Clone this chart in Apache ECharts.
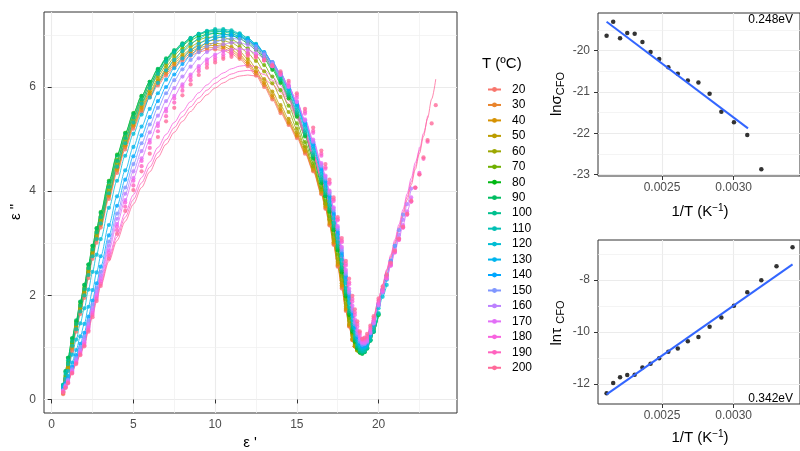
<!DOCTYPE html>
<html><head><meta charset="utf-8">
<script src="https://cdn.jsdelivr.net/npm/echarts@6/dist/echarts.min.js"></script>
<style>html,body{margin:0;padding:0;background:#fff}#c{width:800px;height:451px}</style>
</head><body><div id="c"></div>
<script>
const FONT = '"Liberation Sans", Arial, Helvetica, sans-serif';

// ---- main panel: epsilon' sampling and epsilon'' read for each temperature ----
const epsReal = [0.7, 0.85, 1.0, 1.25, 1.5, 1.75, 2.0, 2.25, 2.5, 2.75, 3.0,
  3.5, 4.0, 4.5, 5.0, 5.5, 6.0, 6.5, 7.0, 7.5, 8.0, 8.5, 9.0, 9.5, 10.0, 10.5, 11.0, 11.5, 12.0, 12.5, 13.0, 13.5,
  14.0, 14.5, 15.0, 15.5, 16.0, 16.5,
  16.75, 17.0, 17.25, 17.5, 17.75, 18.0, 18.2, 18.4, 18.55, 18.7, 18.85, 19.0, 19.15, 19.3, 19.5, 19.7,
  20.0, 20.25, 20.5, 20.75, 21.0, 21.25, 21.5, 21.75, 22.0, 22.25, 22.5, 22.75, 23.0, 23.25, 23.5];
const temps = ['20','30','40','50','60','70','80','90','100','110','120','130','140','150','160','170','180','190','200'];

const epsImag_20 = [0.10,0.32,0.55,0.93,1.30,1.64,1.95,2.33,2.70,3.01,3.30,
  3.85,4.35,4.80,5.20,5.52,5.80,6.03,6.22,6.38,6.50,6.60,6.67,6.71,6.72,6.70,6.64,6.54,6.40,6.22,6.00,5.76,5.50,5.27,5.02,4.72,4.38,3.94,
  3.66,3.34,2.97,2.55,2.13,1.70,1.40,1.14,1.02,0.96,0.96,1.00,1.06,1.15,1.28,1.42];
const epsImag_30 = [0.12,0.35,0.58,0.98,1.35,1.69,2.00,2.39,2.75,3.07,3.35,
  3.90,4.40,4.85,5.24,5.56,5.84,6.07,6.26,6.42,6.54,6.64,6.71,6.75,6.76,6.74,6.68,6.58,6.44,6.26,6.04,5.80,5.54,5.30,5.05,4.75,4.40,3.96,
  3.68,3.36,2.99,2.57,2.16,1.72,1.41,1.14,1.02,0.95,0.94,0.99,1.05,1.15,1.28,1.43];
const epsImag_40 = [0.14,0.38,0.60,1.01,1.38,1.72,2.03,2.42,2.78,3.10,3.38,
  3.93,4.43,4.88,5.27,5.60,5.88,6.11,6.30,6.46,6.58,6.68,6.75,6.79,6.80,6.78,6.72,6.62,6.48,6.30,6.08,5.84,5.58,5.33,5.08,4.78,4.43,3.99,
  3.71,3.39,3.02,2.60,2.19,1.74,1.43,1.15,1.02,0.95,0.94,0.98,1.04,1.14,1.27,1.42];
const epsImag_50 = [0.16,0.40,0.62,1.03,1.40,1.75,2.06,2.46,2.82,3.14,3.42,
  3.97,4.47,4.92,5.31,5.64,5.92,6.15,6.34,6.50,6.62,6.72,6.79,6.83,6.84,6.82,6.77,6.68,6.54,6.37,6.15,5.91,5.65,5.39,5.13,4.83,4.47,4.03,
  3.75,3.43,3.06,2.64,2.23,1.78,1.45,1.17,1.02,0.94,0.92,0.96,1.02,1.12,1.25,1.40];
const epsImag_60 = [0.18,0.43,0.66,1.07,1.44,1.79,2.10,2.50,2.86,3.19,3.47,
  4.03,4.53,4.98,5.37,5.70,5.98,6.21,6.40,6.56,6.68,6.78,6.85,6.89,6.90,6.89,6.85,6.77,6.65,6.50,6.30,6.07,5.81,5.52,5.20,4.86,4.48,4.03,
  3.76,3.46,3.10,2.70,2.29,1.84,1.51,1.22,1.05,0.94,0.91,0.93,0.97,1.05,1.20,1.36];
const epsImag_70 = [0.20,0.46,0.70,1.10,1.47,1.83,2.15,2.54,2.90,3.23,3.52,
  4.10,4.60,5.04,5.43,5.76,6.04,6.27,6.46,6.62,6.74,6.84,6.91,6.95,6.96,6.95,6.91,6.84,6.74,6.60,6.42,6.20,5.94,5.64,5.30,4.94,4.54,4.08,
  3.82,3.52,3.17,2.78,2.37,1.92,1.57,1.27,1.09,0.96,0.90,0.90,0.93,1.00,1.15,1.32];
const epsImag_80 = [0.25,0.53,0.80,1.17,1.50,1.87,2.20,2.59,2.95,3.29,3.60,
  4.20,4.70,5.12,5.50,5.83,6.10,6.34,6.53,6.68,6.80,6.90,6.97,7.01,7.03,7.02,6.99,6.93,6.84,6.71,6.54,6.33,6.08,5.78,5.43,5.05,4.62,4.15,
  3.90,3.60,3.25,2.86,2.44,1.98,1.62,1.30,1.11,0.98,0.90,0.88,0.91,0.98,1.13,1.30, 1.62];
const epsImag_90 = [0.28,0.55,0.80,1.18,1.52,1.88,2.20,2.59,2.95,3.28,3.58,
  4.17,4.68,5.10,5.48,5.82,6.10,6.35,6.55,6.71,6.84,6.94,7.01,7.05,7.07,7.06,7.03,6.97,6.88,6.75,6.58,6.37,6.12,5.82,5.47,5.08,4.65,4.18,
  3.92,3.63,3.28,2.90,2.48,2.02,1.66,1.33,1.13,0.99,0.91,0.88,0.91,0.98,1.13,1.30, 1.63];
const epsImag_100 = [0.28,0.53,0.75,1.12,1.45,1.80,2.12,2.52,2.88,3.21,3.50,
  4.08,4.58,5.02,5.41,5.76,6.05,6.30,6.52,6.69,6.83,6.94,7.02,7.07,7.09,7.09,7.06,7.00,6.91,6.78,6.61,6.40,6.15,5.86,5.51,5.12,4.69,4.22,
  3.96,3.67,3.33,2.95,2.53,2.07,1.70,1.38,1.17,1.02,0.93,0.90,0.92,0.98,1.13,1.30, 1.64];
const epsImag_110 = [0.27,0.49,0.68,1.03,1.35,1.69,2.00,2.39,2.75,3.08,3.38,
  3.96,4.47,4.92,5.32,5.68,5.98,6.25,6.48,6.66,6.81,6.93,7.02,7.08,7.11,7.11,7.09,7.03,6.94,6.82,6.65,6.44,6.19,5.90,5.56,5.17,4.74,4.27,
  4.02,3.73,3.39,3.02,2.60,2.14,1.77,1.44,1.22,1.06,0.97,0.93,0.94,1.00,1.15,1.32, 1.66];
const epsImag_120 = [0.25,0.40,0.55,0.86,1.15,1.46,1.75,2.11,2.45,2.78,3.08,
  3.68,4.20,4.68,5.10,5.47,5.80,6.08,6.32,6.52,6.69,6.83,6.93,7.00,7.05,7.07,7.06,7.02,6.94,6.83,6.67,6.47,6.23,5.95,5.62,5.24,4.81,4.33,
  4.09,3.80,3.47,3.10,2.68,2.23,1.85,1.52,1.29,1.12,1.02,0.97,0.99,1.04,1.20,1.38, 1.75,1.97,2.20];
const epsImag_130 = [0.22,0.33,0.45,0.71,0.95,1.21,1.45,1.78,2.10,2.44,2.75,
  3.35,3.90,4.40,4.85,5.24,5.58,5.88,6.14,6.36,6.55,6.71,6.83,6.92,6.98,7.01,7.01,6.98,6.91,6.81,6.66,6.47,6.24,5.97,5.65,5.28,4.86,4.39,
  4.15,3.86,3.54,3.17,2.76,2.30,1.93,1.60,1.36,1.17,1.06,1.00,1.01,1.07,1.23,1.42, 1.80,2.05,2.30];
const epsImag_140 = [0.20,0.30,0.40,0.63,0.85,1.07,1.28,1.59,1.90,2.23,2.55,
  3.15,3.72,4.22,4.67,5.07,5.42,5.73,6.00,6.24,6.44,6.61,6.75,6.86,6.93,6.97,6.98,6.96,6.90,6.80,6.66,6.48,6.26,6.00,5.68,5.32,4.90,4.43,
  4.19,3.90,3.58,3.22,2.81,2.36,1.99,1.65,1.40,1.20,1.08,1.02,1.03,1.08,1.25,1.45, 1.82,2.10,2.38,2.66,2.95];
const epsImag_150 = [0.18,0.28,0.38,0.59,0.80,1.00,1.20,1.51,1.82,2.14,2.45,
  3.03,3.57,4.07,4.52,4.92,5.28,5.60,5.88,6.13,6.34,6.52,6.67,6.78,6.86,6.91,6.93,6.92,6.87,6.78,6.65,6.48,6.27,6.02,5.71,5.35,4.94,4.48,
  4.24,3.95,3.63,3.27,2.86,2.41,2.04,1.70,1.44,1.24,1.11,1.05,1.06,1.10,1.27,1.46, 1.82,2.10,2.38,2.66,2.95,3.25,3.55];
const epsImag_160 = [0.17,0.26,0.36,0.56,0.76,0.95,1.15,1.45,1.75,2.07,2.38,
  2.95,3.47,3.95,4.38,4.77,5.13,5.45,5.73,5.98,6.20,6.39,6.55,6.67,6.76,6.82,6.85,6.85,6.81,6.73,6.61,6.45,6.25,6.01,5.71,5.36,4.96,4.51,
  4.27,3.98,3.66,3.30,2.90,2.45,2.08,1.74,1.48,1.28,1.15,1.08,1.08,1.12,1.28,1.46, 1.80,2.06,2.33,2.60,2.87,3.16,3.45,3.75,4.05];
const epsImag_170 = [0.16,0.25,0.34,0.54,0.73,0.91,1.10,1.40,1.70,2.01,2.32,
  2.87,3.37,3.83,4.25,4.63,4.98,5.30,5.58,5.83,6.05,6.24,6.40,6.53,6.62,6.69,6.72,6.73,6.71,6.65,6.55,6.41,6.23,6.00,5.72,5.38,4.99,4.54,
  4.30,4.01,3.69,3.33,2.93,2.49,2.13,1.80,1.54,1.33,1.19,1.10,1.10,1.14,1.30,1.48, 1.82,2.07,2.32,2.57,2.83,3.09,3.35,3.61,3.88];
const epsImag_180 = [0.15,0.24,0.33,0.52,0.71,0.89,1.07,1.37,1.66,1.97,2.27,
  2.82,3.32,3.78,4.20,4.58,4.93,5.25,5.53,5.78,6.00,6.19,6.35,6.48,6.57,6.63,6.66,6.67,6.65,6.60,6.52,6.40,6.24,6.03,5.79,5.49,5.12,4.68,
  4.43,4.14,3.81,3.44,3.02,2.57,2.21,1.88,1.62,1.40,1.24,1.14,1.14,1.18,1.34,1.52, 1.85,2.09,2.33,2.57,2.82,3.06,3.30,3.55,3.80,4.07,4.35];
const epsImag_190 = [0.14,0.23,0.32,0.51,0.70,0.87,1.04,1.33,1.62,1.93,2.22,
  2.76,3.25,3.70,4.11,4.48,4.83,5.15,5.44,5.70,5.93,6.13,6.30,6.43,6.52,6.58,6.62,6.63,6.62,6.58,6.51,6.40,6.26,6.08,5.84,5.53,5.16,4.72,
  4.46,4.17,3.84,3.46,3.05,2.61,2.25,1.93,1.67,1.45,1.28,1.16,1.17,1.22,1.38,1.56, 1.90,2.13,2.37,2.60,2.84,3.07,3.30,3.55,3.80,4.06,4.32,4.62,4.95];
const epsImag_200 = [0.13,0.22,0.31,0.50,0.68,0.85,1.02,1.30,1.58,1.89,2.18,
  2.70,3.18,3.62,4.02,4.38,4.72,5.04,5.34,5.60,5.84,6.05,6.23,6.37,6.47,6.54,6.58,6.60,6.60,6.57,6.51,6.42,6.30,6.12,5.88,5.58,5.22,4.78,
  4.52,4.22,3.88,3.50,3.10,2.66,2.32,1.99,1.73,1.50,1.31,1.17,1.19,1.26,1.42,1.60, 1.94,2.17,2.40,2.63,2.86,3.09,3.32,3.57,3.82,4.07,4.32,4.65,4.98,5.30,5.65];
// separate fitted curves (lines) of the three hottest runs
const fitImag_180 = [0.14,0.25,0.35,0.54,0.72,0.90,1.08,1.38,1.67,1.97,2.27,
  2.76,3.19,3.58,3.93,4.26,4.56,4.84,5.09,5.32,5.53,5.72,5.89,6.04,6.17,6.27,6.35,6.40,6.42,6.39,6.32,6.20,6.03,5.80,5.50,5.15,4.74,4.28,
  4.03,3.75,3.43,3.08,2.71,2.30,1.97,1.68,1.46,1.28,1.15,1.08,1.10,1.18,1.35,1.55, 1.92,2.21,2.50,2.78,3.07,3.36,3.65,3.95,4.25,4.55,4.85];
const fitImag_190 = [0.13,0.24,0.34,0.53,0.70,0.88,1.05,1.35,1.63,1.93,2.22,
  2.70,3.12,3.50,3.84,4.16,4.46,4.74,4.99,5.22,5.43,5.62,5.79,5.94,6.07,6.17,6.25,6.30,6.32,6.30,6.24,6.13,5.97,5.74,5.45,5.11,4.71,4.26,
  4.02,3.74,3.43,3.08,2.71,2.30,1.98,1.70,1.48,1.30,1.17,1.10,1.12,1.20,1.38,1.58, 1.93,2.20,2.48,2.75,3.03,3.31,3.60,3.89,4.18,4.48,4.78,5.11,5.45];
const fitImag_200 = [0.12,0.23,0.33,0.51,0.68,0.86,1.03,1.32,1.60,1.89,2.18,
  2.65,3.05,3.42,3.75,4.07,4.37,4.65,4.90,5.13,5.34,5.53,5.70,5.85,5.98,6.08,6.16,6.21,6.23,6.21,6.15,6.05,5.90,5.68,5.40,5.07,4.68,4.23,
  4.00,3.72,3.41,3.06,2.70,2.30,1.99,1.72,1.51,1.33,1.19,1.12,1.14,1.22,1.40,1.60, 1.93,2.19,2.46,2.72,2.99,3.27,3.55,3.83,4.12,4.42,4.72,5.05,5.40,5.77,6.15];

// ---- Arrhenius panels ----
const invT = [0.002113,0.002159,0.002207,0.002257,0.002309,0.002363,0.002420,0.002480,0.002544,0.002610,
  0.002680,0.002754,0.002832,0.002914,0.003002,0.003095,0.003193,0.003299,0.003411];
const lnSigma = [-19.64,-19.30,-19.70,-19.57,-19.59,-19.79,-20.03,-20.20,-20.40,-20.56,-20.72,-20.77,-21.04,-21.48,-21.73,-22.04,-22.87];
const lnTau = [-12.36,-11.96,-11.74,-11.65,-11.64,-11.37,-11.22,-11.01,-10.76,-10.63,-10.36,-10.19,-9.80,-9.44,-8.99,-8.47,-8.01,-7.47,-6.74];
const sigmaFitX = [0.002113, 0.003100];
const sigmaFitY = [-19.30, -21.88];
const tauFitX = [0.002113, 0.003411];
const tauFitY = [-12.40, -7.40];
const sigmaLabel = '0.248eV';
const tauLabel = '0.342eV';

const xTicksMain = [0, 5, 10, 15, 20];
const yTicksMain = [0, 2, 4, 6];
const xMinorMain = [2.5, 7.5, 12.5, 17.5, 22.5];
const yMinorMain = [1, 3, 5, 7];
const xTicksArr = [0.0025, 0.0030];
const xMinorArr = [0.00225, 0.00275, 0.00325];
const yTicksSigma = [-23, -22, -21, -20];
const yMinorSigma = [-22.5, -21.5, -20.5, -19.5];
const yTicksTau = [-12, -10, -8];
const yMinorTau = [-11, -9, -7];

const dotArrays = [epsImag_20,epsImag_30,epsImag_40,epsImag_50,epsImag_60,epsImag_70,epsImag_80,epsImag_90,epsImag_100,
  epsImag_110,epsImag_120,epsImag_130,epsImag_140,epsImag_150,epsImag_160,epsImag_170,epsImag_180,epsImag_190,epsImag_200];
const fitArrays = {'180': fitImag_180, '190': fitImag_190, '200': fitImag_200};

// ggplot2 default hue palette (HCL, c=100, l=65)
function hcl(h, c, l) {
  const hr = h * Math.PI / 180;
  const U = c * Math.cos(hr), V = c * Math.sin(hr);
  const Xn = 95.047, Yn = 100, Zn = 108.883;
  const Y = l > 8 ? Yn * Math.pow((l + 16) / 116, 3) : Yn * l / 903.3;
  const t = Xn + 15 * Yn + 3 * Zn;
  const un = 4 * Xn / t, vn = 9 * Yn / t;
  const up = U / (13 * l) + un, vp = V / (13 * l) + vn;
  const X = 9 * Y * up / (4 * vp);
  const Z = Y * (12 - 3 * up - 20 * vp) / (4 * vp);
  const x = X / 100, y = Y / 100, z = Z / 100;
  const r = 3.240479 * x - 1.537150 * y - 0.498535 * z;
  const g = -0.969256 * x + 1.875992 * y + 0.041556 * z;
  const b = 0.055648 * x - 0.204043 * y + 1.057311 * z;
  const gam = v => { v = v <= 0.0031308 ? 12.92 * v : 1.055 * Math.pow(v, 1 / 2.4) - 0.055; return Math.round(Math.max(0, Math.min(1, v)) * 255); };
  return 'rgb(' + gam(r) + ',' + gam(g) + ',' + gam(b) + ')';
}
const cols = temps.map((t, i) => hcl(15 + 360 * i / temps.length, 100, 65));

const pairs = (xs, ys) => ys.map((v, i) => [xs[i], v]);

const axisLbl = { color: '#4D4D4D', fontSize: 12, fontFamily: FONT };
const tick = { show: true, length: 4, lineStyle: { color: '#333333', width: 1 } };
const split = { show: true, lineStyle: { color: '#EBEBEB', width: 1.1 } };

function minorGrid(gi, xs, ys) {
  return {
    type: 'line', xAxisIndex: gi, yAxisIndex: gi, data: [], silent: true, z: 1,
    markLine: {
      silent: true, z: 1, symbol: ['none', 'none'], animation: false, label: { show: false },
      lineStyle: { color: '#EFEFEF', width: 0.7, type: 'solid' },
      emphasis: { disabled: true },
      data: xs.map(v => ({ xAxis: v })).concat(ys.map(v => ({ yAxis: v })))
    }
  };
}

const series = [];
series.push(minorGrid(0, xMinorMain, yMinorMain));
series.push(minorGrid(1, xMinorArr, yMinorSigma));
series.push(minorGrid(2, xMinorArr, yMinorTau));

// line series first (they carry the legend entries), dots drawn above them
temps.forEach((t, k) => {
  series.push({
    type: 'line', name: t, xAxisIndex: 0, yAxisIndex: 0, silent: true, z: 2,
    data: pairs(epsReal, fitArrays[t] || dotArrays[k]), smooth: 0.3, smoothMonotone: 'x',
    showSymbol: false, symbol: 'circle',
    lineStyle: { width: 0.8, color: cols[k] }, itemStyle: { color: cols[k] }
  });
});
temps.forEach((t, k) => {
  series.push({
    type: 'scatter', name: 'pts' + t, xAxisIndex: 0, yAxisIndex: 0, silent: true, z: 3,
    data: pairs(epsReal, dotArrays[k]), symbolSize: 4.2, itemStyle: { color: cols[k] }
  });
});

series.push({ type: 'scatter', xAxisIndex: 1, yAxisIndex: 1, silent: true, z: 3, symbolSize: 4.5,
  data: pairs(invT, lnSigma), itemStyle: { color: '#000' } });
series.push({ type: 'line', xAxisIndex: 1, yAxisIndex: 1, silent: true, z: 4, showSymbol: false,
  data: pairs(sigmaFitX, sigmaFitY), lineStyle: { color: '#3366FF', width: 2 } });
series.push({ type: 'scatter', xAxisIndex: 2, yAxisIndex: 2, silent: true, z: 3, symbolSize: 4.5,
  data: pairs(invT, lnTau), itemStyle: { color: '#000' } });
series.push({ type: 'line', xAxisIndex: 2, yAxisIndex: 2, silent: true, z: 4, showSymbol: false,
  data: pairs(tauFitX, tauFitY), lineStyle: { color: '#3366FF', width: 2 } });

function xAx(gi, min, max, itv, ticks, fmt) {
  return { gridIndex: gi, type: 'value', min: min, max: max, minInterval: itv, maxInterval: itv,
    axisLine: { show: false }, axisTick: Object.assign({ customValues: ticks }, tick),
    axisLabel: Object.assign({ customValues: ticks, margin: 6, formatter: fmt }, axisLbl),
    splitLine: split };
}
function yAx(gi, min, max, itv, ticks, margin) {
  return { gridIndex: gi, type: 'value', min: min, max: max, minInterval: itv, maxInterval: itv,
    axisLine: { show: false }, axisTick: Object.assign({ customValues: ticks }, tick),
    axisLabel: Object.assign({ customValues: ticks, margin: margin }, axisLbl),
    splitLine: split };
}

const titleStyle = { fill: '#000', fontSize: 15, fontFamily: FONT };
const supRich = {
  a: { fontSize: 15, fontFamily: FONT, color: '#000', lineHeight: 18 },
  s: { fontSize: 10, fontFamily: FONT, color: '#000', lineHeight: 10, verticalAlign: 'top' },
  b: { fontSize: 11, fontFamily: FONT, color: '#000', lineHeight: 11, verticalAlign: 'bottom' }
};

const option = {
  animation: false,
  backgroundColor: '#fff',
  grid: [
    { left: 44, top: 12, width: 413, height: 401, show: true, borderColor: '#333333', borderWidth: 1, backgroundColor: 'transparent' },
    { left: 598, top: 13, width: 204, height: 163, show: true, borderColor: '#333333', borderWidth: 1, backgroundColor: 'transparent' },
    { left: 598, top: 240, width: 204, height: 164, show: true, borderColor: '#333333', borderWidth: 1, backgroundColor: 'transparent' }
  ],
  xAxis: [
    xAx(0, -0.47, 24.8, 5, xTicksMain, v => String(v)),
    xAx(1, 0.002053, 0.003463, 0.0005, xTicksArr, v => v.toFixed(4)),
    xAx(2, 0.002053, 0.003463, 0.0005, xTicksArr, v => v.toFixed(4))
  ],
  yAxis: [
    yAx(0, -0.26, 7.44, 2, yTicksMain, 8),
    yAx(1, -23.034, -19.087, 1, yTicksSigma, 8),
    yAx(2, -12.77, -6.46, 2, yTicksTau, 8)
  ],
  legend: {
    orient: 'vertical', left: 482, top: 77, itemWidth: 13, itemHeight: 6, itemGap: 0.46,
    selectedMode: false, data: temps,
    textStyle: { fontSize: 12, color: '#000', fontFamily: FONT, lineHeight: 15, padding: [0, 0, 0, 6] }
  },
  graphic: [
    { type: 'text', x: 250, y: 443, style: Object.assign({ text: "ε '", align: 'center', verticalAlign: 'middle' }, titleStyle) },
    { type: 'text', x: 16, y: 212, rotation: Math.PI / 2, style: Object.assign({ text: 'ε "', align: 'center', verticalAlign: 'middle' }, titleStyle) },
    { type: 'text', x: 482, y: 64, style: Object.assign({ text: 'T (ºC)', align: 'left', verticalAlign: 'middle' }, titleStyle) },
    { type: 'text', x: 557, y: 94, rotation: Math.PI / 2, style: { text: '{a|lnσ}{b|CFO}', rich: supRich, align: 'center', verticalAlign: 'middle' } },
    { type: 'text', x: 557, y: 323, rotation: Math.PI / 2, style: { text: '{a|lnτ }{b|CFO}', rich: supRich, align: 'center', verticalAlign: 'middle' } },
    { type: 'text', x: 700, y: 212, style: { text: '{a|1/T (K}{s|−1}{a|)}', rich: supRich, align: 'center', verticalAlign: 'middle' } },
    { type: 'text', x: 700, y: 438, style: { text: '{a|1/T (K}{s|−1}{a|)}', rich: supRich, align: 'center', verticalAlign: 'middle' } },
    { type: 'text', x: 793, y: 20, style: { text: sigmaLabel, align: 'right', verticalAlign: 'middle', fill: '#000', fontSize: 12, fontFamily: FONT } },
    { type: 'text', x: 793, y: 399, style: { text: tauLabel, align: 'right', verticalAlign: 'middle', fill: '#000', fontSize: 12, fontFamily: FONT } }
  ],
  series: series
};

const chart = echarts.init(document.getElementById('c'), null, { renderer: 'canvas' });
chart.setOption(option);
</script>
</body></html>
